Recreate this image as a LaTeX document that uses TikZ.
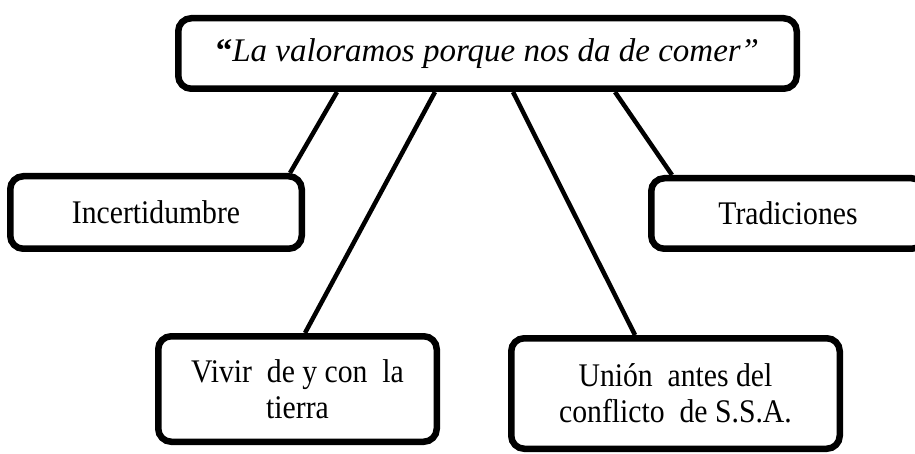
\documentclass[tikz,border=0pt]{standalone}
\usepackage{fontspec}
\setmainfont{Liberation Serif}
\newfontfamily\narrowserif[FakeStretch=0.9]{Liberation Serif}
\usetikzlibrary{backgrounds}
\begin{document}
\begin{tikzpicture}[x=1pt,y=-1pt,
  box/.style={draw=black, line width=6.5pt, rounded corners=13pt, fill=white,
    inner sep=0pt, align=center, font=\narrowserif\fontsize{33}{36}\selectfont},
  link/.style={line width=4.5pt}]
\useasboundingbox (0,0) rectangle (915,454);
\node[box, font=\rmfamily\fontsize{33}{36}\selectfont, minimum width=618.5pt, minimum height=70.5pt] (top) at (487.5,53.5)
  {{\bfseries “}\itshape La valoramos porque nos da de comer”};
\node[box, minimum width=291.5pt, minimum height=72.5pt] (inc) at (156,212.5) {Incertidumbre};
\node[box, minimum width=273.5pt, minimum height=70.5pt] (trad) at (788,213.5) {Tradiciones};
\node[box, minimum width=278.5pt, minimum height=105.5pt] (viv) at (297.5,389)
  {Vivir\ \ de y con\ \ la\\tierra};
\node[box, minimum width=328.5pt, minimum height=110.5pt] (uni) at (675.5,393.5)
  {Unión\ \ antes del\\conflicto\ \ de S.S.A.};
\begin{scope}[on background layer]
\draw[link] ([xshift=162pt]top.south west) -- ([xshift=-15pt]inc.north east);
\draw[link] ([xshift=260pt]top.south west) -- ([xshift=150pt]viv.north west);
\draw[link] ([xshift=338pt]top.south west) -- ([xshift=127pt]uni.north west);
\draw[link] ([xshift=440pt]top.south west) -- ([xshift=24pt]trad.north west);
\end{scope}
\end{tikzpicture}
\end{document}
